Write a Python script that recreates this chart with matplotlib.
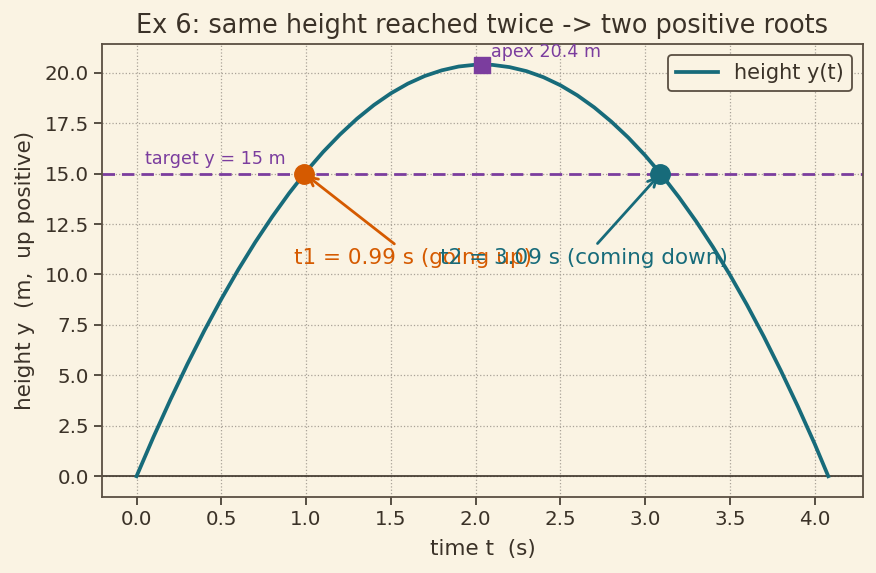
import matplotlib
matplotlib.use("Agg")
import matplotlib.pyplot as plt

# height of the ball (s, m)
t_vals = [0.0, 0.1, 0.2, 0.3, 0.4, 0.5, 0.6, 0.7, 0.8, 0.9, 1.0,
          1.1, 1.2, 1.3, 1.4, 1.5, 1.6, 1.7, 1.8, 1.9, 2.0,
          2.1, 2.2, 2.3, 2.4, 2.5, 2.6, 2.7, 2.8, 2.9, 3.0,
          3.1, 3.2, 3.3, 3.4, 3.5, 3.6, 3.7, 3.8, 3.9, 4.0, 4.08]
y_vals = [0.0, 1.95, 3.80, 5.56, 7.22, 8.78, 10.24, 11.60, 12.86, 14.03, 15.10,
          16.07, 16.94, 17.72, 18.40, 18.98, 19.46, 19.84, 20.12, 20.31, 20.40,
          20.39, 20.28, 20.08, 19.78, 19.38, 18.88, 18.28, 17.58, 16.79, 15.90,
          14.91, 13.82, 12.64, 11.36, 9.98, 8.50, 6.92, 5.24, 3.47, 1.60, 0.0]

target_h = 15
t1, t2 = 0.99, 3.09
apex_t, apex_h = 2.04, 20.4

bg = "#faf3e3"
ink = "#3b3228"
teal = "#176b7a"
orange = "#d55a00"
purple = "#7b3d9e"

plt.rcParams['font.family'] = ['DejaVu Sans']
fig, ax = plt.subplots(figsize=(8.76, 5.73), dpi=100)
fig.patch.set_facecolor(bg)
ax.set_facecolor(bg)

ax.plot(t_vals, y_vals, color=teal, lw=2.7, label="height y(t)", zorder=3)
ax.axhline(target_h, color=purple, lw=2, ls=(0, (4.5, 2.5)), zorder=2)
ax.axhline(0, color=ink, lw=1.2, zorder=2)

ax.plot([t1], [target_h], 'o', color=orange, ms=14, zorder=4)
ax.plot([t2], [target_h], 'o', color=teal, ms=14, zorder=4)
ax.plot([apex_t], [apex_h], 's', color=purple, ms=11, zorder=4)

ax.text(0.05, target_h + 0.3, "target y = 15 m", color=purple, fontsize=12.6,
        va='bottom')
ax.text(apex_t + 0.05, apex_h + 0.2, "apex 20.4 m", color=purple, fontsize=12.6,
        va='bottom')

ax.annotate(f"t1 = {t1:.2f} s (going up)", xy=(t1, target_h), xytext=(1.63, 10.8),
            color=orange, fontsize=15.5, ha='center', va='center',
            arrowprops=dict(arrowstyle='->', color=orange, lw=2))
ax.annotate(f"t2 = {t2:.2f} s (coming down)", xy=(t2, target_h), xytext=(2.64, 10.8),
            color=teal, fontsize=15.5, ha='center', va='center',
            arrowprops=dict(arrowstyle='->', color=teal, lw=2))

ax.set_title("Ex 6: same height reached twice -> two positive roots",
             fontsize=18.4, color=ink, pad=8)
ax.set_xlabel("time t  (s)", fontsize=15.5, color=ink, labelpad=7)
ax.set_ylabel("height y  (m,  up positive)", fontsize=15.5, color=ink, labelpad=7)
ax.set_xticks([0, 0.5, 1.0, 1.5, 2.0, 2.5, 3.0, 3.5, 4.0])
ax.set_yticks([0, 2.5, 5, 7.5, 10, 12.5, 15, 17.5, 20])
ax.tick_params(colors=ink, labelsize=14.3, length=6, width=1.2)
ax.grid(True, ls=':', color='#aaa398', lw=0.9)
for s in ax.spines.values():
    s.set_color('#5a4f42')
    s.set_linewidth(1.3)

leg = ax.legend(loc='upper right', fontsize=15, facecolor=bg, edgecolor='#5a4f42',
                framealpha=1)
leg.get_frame().set_linewidth(1.3)
for txt in leg.get_texts():
    txt.set_color(ink)

fig.subplots_adjust(left=0.1164, right=0.985, top=0.923, bottom=0.133)
fig.savefig("out.png", dpi=100, facecolor=bg)
